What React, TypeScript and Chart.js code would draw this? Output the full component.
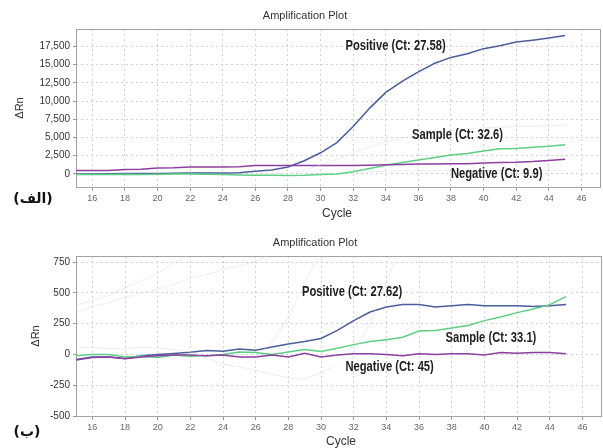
import React, { useEffect, useRef } from "react";
import { Chart, registerables } from "chart.js";

Chart.register(...registerables);

// ---------- data ----------
const cycles = [15, 16, 17, 18, 19, 20, 21, 22, 23, 24, 25, 26, 27, 28, 29, 30, 31, 32, 33, 34, 35, 36, 37, 38, 39, 40, 41, 42, 43, 44, 45];
const xTicks = [16, 18, 20, 22, 24, 26, 28, 30, 32, 34, 36, 38, 40, 42, 44, 46];
const topYTicks = [0, 2500, 5000, 7500, 10000, 12500, 15000, 17500];
const bottomYTicks = [-500, -250, 0, 250, 500, 750];

// Chart (الف)
const topPositive = [0, 0, 10, 60, 40, 60, 90, 110, 120, 130, 160, 350, 550, 950, 1800, 2900, 4300, 6500, 9000, 11200, 12700, 14000, 15200, 16000, 16500, 17200, 17600, 18100, 18350, 18650, 19000];
const topSample = [-100, -100, -80, -50, -80, -50, -30, -20, -50, -100, -150, -200, -200, -220, -200, -100, -20, 300, 750, 1200, 1550, 1900, 2250, 2600, 2800, 3150, 3450, 3500, 3650, 3800, 4000];
const topNegative = [450, 450, 480, 620, 650, 800, 830, 950, 950, 960, 980, 1150, 1150, 1150, 1150, 1150, 1150, 1150, 1200, 1250, 1280, 1350, 1350, 1400, 1400, 1500, 1550, 1600, 1700, 1850, 2000];
const topGhost1 = [null, null, null, null, null, null, null, null, null, null, null, null, null, 100, 500, 1200, 2000, 2900, 3700, 4400, 4900, 5300, 5700, 6000, 6200, 6300, 6400, 6500, 6550, 6600, 6650];
const topGhost2 = [null, null, null, null, null, null, null, null, null, null, null, null, null, null, null, null, null, null, 300, 350, 400, 420, 430, 450, 450, 460, 470, 480, 490, 500, 500];

// Chart (ب)
const bottomPositive = [-40, -20, -20, -33, -10, 0, 8, 18, 33, 27, 45, 35, 60, 85, 105, 130, 195, 275, 345, 385, 405, 405, 385, 395, 405, 395, 395, 395, 390, 395, 405];
const bottomSample = [-10, 0, 0, -20, -15, -25, -5, -15, -10, 0, 20, 15, 0, 20, 40, 25, 50, 80, 105, 120, 140, 190, 195, 215, 235, 275, 305, 340, 370, 405, 470];
const bottomNegative = [-45, -25, -20, -35, -20, -10, -5, -5, -10, -5, -20, -20, -5, -20, 10, -20, -5, 5, 5, 0, -10, 5, 0, 5, 5, -5, 15, 10, 15, 15, 5];
const bottomGhostA = [400, 440, 480, 540, 600, 660, 740, 820, null, null, null, null, null, null, null, null, null, null, null, null, null, null, null, null, null, null, null, null, null, null, null];
const bottomGhostB = [340, 390, 420, 460, 500, 530, 570, 620, 650, 690, 720, 760, 820, null, null, null, null, null, null, null, null, null, null, null, null, null, null, null, null, null, null];
const bottomGhostC = [null, null, null, null, null, null, null, null, null, null, null, -20, 100, 300, 580, 850, null, null, null, null, null, null, null, null, null, null, null, null, null, null, null];
const bottomGhostD = [null, null, null, null, null, null, null, null, null, null, null, null, null, null, null, null, null, 20, 250, 600, 900, null, null, null, null, null, null, null, null, null, null];
const bottomGhostE = [60, 55, 50, 45, 60, 50, 40, 20, -30, -80, -100, -130, -160, -190, -200, -150, -80, null, null, null, null, null, null, null, null, null, null, null, null, null, null];

const topLabels: [string, number, number][] = [
  ["Positive (Ct: 27.58)", 34.6, 17580],
  ["Sample (Ct: 32.6)", 38.4, 5360],
  ["Negative (Ct: 9.9)", 40.8, 0],
];
const bottomLabels: [string, number, number][] = [
  ["Positive (Ct: 27.62)", 31.9, 507],
  ["Sample (Ct: 33.1)", 40.4, 130],
  ["Negative (Ct: 45)", 34.2, -106],
];

const POS_COLOR = "#4a5d9c";
const SAMPLE_COLOR = "#5ccf84";
const NEG_COLOR = "#8c3fa0";
const GHOST_COLOR = "rgba(210,210,210,0.4)";

type Cfg = {
  positive: number[];
  sample: number[];
  negative: number[];
  ghosts: (number | null)[][];
  yTicks: number[];
  yMin: number;
  yMax: number;
  area: { top: number; bottom: number; right: number; left: number };
  titleX: number;
  titleY: number;
  rnX: number;
  rnY: number;
  cycleX: number;
  cycleY: number;
  tag: string;
  tagX: number;
  tagY: number;
  labels: [string, number, number][];
};

const W = 603;
const H = 224;
const X_AXIS_H = 17;

function pts(values: (number | null)[]) {
  return cycles.map((c, i) => ({ x: c, y: values[i] }));
}

function buildChart(canvas: HTMLCanvasElement, cfg: Cfg) {
  const overlay = {
    id: "overlay",
    beforeDatasetsDraw(chart: any) {
      const { ctx, chartArea } = chart;
      ctx.save();
      ctx.strokeStyle = "#a3a3a3";
      ctx.lineWidth = 1;
      ctx.setLineDash([]);
      ctx.strokeRect(
        Math.round(chartArea.left) + 0.5,
        Math.round(chartArea.top) + 0.5,
        Math.round(chartArea.right - chartArea.left) - 1,
        Math.round(chartArea.bottom - chartArea.top)
      );
      ctx.restore();
    },
    afterDraw(chart: any) {
      const { ctx } = chart;
      ctx.save();
      ctx.textAlign = "center";
      ctx.textBaseline = "middle";
      ctx.fillStyle = "#333";
      ctx.font = '11px "Liberation Sans", Arial, sans-serif';
      ctx.fillText("Amplification Plot", cfg.titleX, cfg.titleY);
      ctx.font = '12px "Liberation Sans", Arial, sans-serif';
      ctx.fillText("Cycle", cfg.cycleX, cfg.cycleY);
      ctx.save();
      ctx.translate(cfg.rnX, cfg.rnY);
      ctx.rotate(-Math.PI / 2);
      ctx.font = '11px "Liberation Sans", Arial, sans-serif';
      ctx.fillText("ΔRn", 0, 0);
      ctx.restore();
      ctx.fillStyle = "#111";
      ctx.font = 'bold 14px "DejaVu Sans", sans-serif';
      ctx.fillText(cfg.tag, cfg.tagX, cfg.tagY);
      ctx.fillStyle = "#1e1e1e";
      ctx.font = 'bold 14px "Liberation Sans", Arial, sans-serif';
      const xs = chart.scales.x;
      const ys = chart.scales.y;
      cfg.labels.forEach(([t, lx, ly]) => {
        ctx.save();
        ctx.translate(xs.getPixelForValue(lx), ys.getPixelForValue(ly));
        ctx.scale(0.8, 1);
        ctx.fillText(t, 0, 0);
        ctx.restore();
      });
      ctx.restore();
    },
  };

  const ghostSets = cfg.ghosts.map((g) => ({
    data: pts(g),
    borderColor: GHOST_COLOR,
    borderWidth: 1,
    pointRadius: 0,
    spanGaps: false,
    tension: 0,
  }));

  const line = (values: number[], color: string) => ({
    data: pts(values),
    borderColor: color,
    borderWidth: 1.5,
    pointRadius: 0,
    tension: 0,
  });

  return new Chart(canvas, {
    type: "line",
    data: {
      datasets: [
        ...ghostSets,
        line(cfg.negative, NEG_COLOR),
        line(cfg.sample, SAMPLE_COLOR),
        line(cfg.positive, POS_COLOR),
      ] as any,
    },
    options: {
      animation: false,
      responsive: false,
      maintainAspectRatio: false,
      events: [],
      layout: {
        padding: {
          top: cfg.area.top,
          bottom: H - cfg.area.bottom - X_AXIS_H,
          left: cfg.area.left - 76,
          right: W - cfg.area.right,
        },
      },
      plugins: {
        legend: { display: false },
        title: { display: false },
        tooltip: { enabled: false },
      },
      scales: {
        x: {
          type: "linear",
          min: 15,
          max: 47.2,
          afterBuildTicks: (s: any) => {
            s.ticks = xTicks.map((v) => ({ value: v }));
          },
          afterFit: (s: any) => {
            s.height = X_AXIS_H;
          },
          grid: {
            color: "#d2d2d2",
            lineWidth: 1,
            drawTicks: true,
            tickLength: 4,
            tickColor: "#999",
          },
          border: { display: false, dash: [2, 3] },
          ticks: {
            autoSkip: false,
            maxRotation: 0,
            minRotation: 0,
            padding: 2,
            color: "#666",
            font: { family: '"Liberation Sans", Arial, sans-serif', size: 9 },
            callback: (v: any) => String(v),
          },
        },
        y: {
          type: "linear",
          min: cfg.yMin,
          max: cfg.yMax,
          afterBuildTicks: (s: any) => {
            s.ticks = cfg.yTicks.map((v) => ({ value: v }));
          },
          afterFit: (s: any) => {
            s.width = 76;
          },
          grid: {
            color: "#d2d2d2",
            lineWidth: 1,
            drawTicks: true,
            tickLength: 3,
            tickColor: "#999",
          },
          border: { display: false, dash: [2, 3] },
          ticks: {
            padding: 3,
            color: "#333",
            font: { family: '"Liberation Sans", Arial, sans-serif', size: 10 },
            callback: (v: any) => Number(v).toLocaleString("en-US"),
          },
        },
      },
    } as any,
    plugins: [overlay as any],
  });
}

const topCfg: Cfg = {
  positive: topPositive,
  sample: topSample,
  negative: topNegative,
  ghosts: [topGhost1, topGhost2],
  yTicks: topYTicks,
  yMin: -1800,
  yMax: 19900,
  area: { top: 29, bottom: 187, left: 76, right: 601 },
  titleX: 305,
  titleY: 16,
  rnX: 20,
  rnY: 108,
  cycleX: 337,
  cycleY: 214,
  tag: "(الف)",
  tagX: 33,
  tagY: 199,
  labels: topLabels,
};

const bottomCfg: Cfg = {
  positive: bottomPositive,
  sample: bottomSample,
  negative: bottomNegative,
  ghosts: [bottomGhostA, bottomGhostB, bottomGhostC, bottomGhostD, bottomGhostE],
  yTicks: bottomYTicks,
  yMin: -500,
  yMax: 800,
  area: { top: 32, bottom: 192, left: 76, right: 602 },
  titleX: 315,
  titleY: 19,
  rnX: 36,
  rnY: 112,
  cycleX: 341,
  cycleY: 218,
  tag: "(ب)",
  tagX: 27,
  tagY: 208,
  labels: bottomLabels,
};

function ChartCanvas({ cfg, top }: { cfg: Cfg; top: number }) {
  const ref = useRef<HTMLCanvasElement | null>(null);
  useEffect(() => {
    if (!ref.current) return;
    const chart = buildChart(ref.current, cfg);
    return () => chart.destroy();
  }, [cfg]);
  return (
    <canvas
      ref={ref}
      width={W}
      height={H}
      style={{ position: "absolute", left: 0, top, width: W, height: H, display: "block" }}
    />
  );
}

export default function App() {
  return (
    <div style={{ position: "absolute", left: 0, top: 0, width: W, height: 448, background: "#fff" }}>
      <ChartCanvas cfg={topCfg} top={0} />
      <ChartCanvas cfg={bottomCfg} top={224} />
    </div>
  );
}
